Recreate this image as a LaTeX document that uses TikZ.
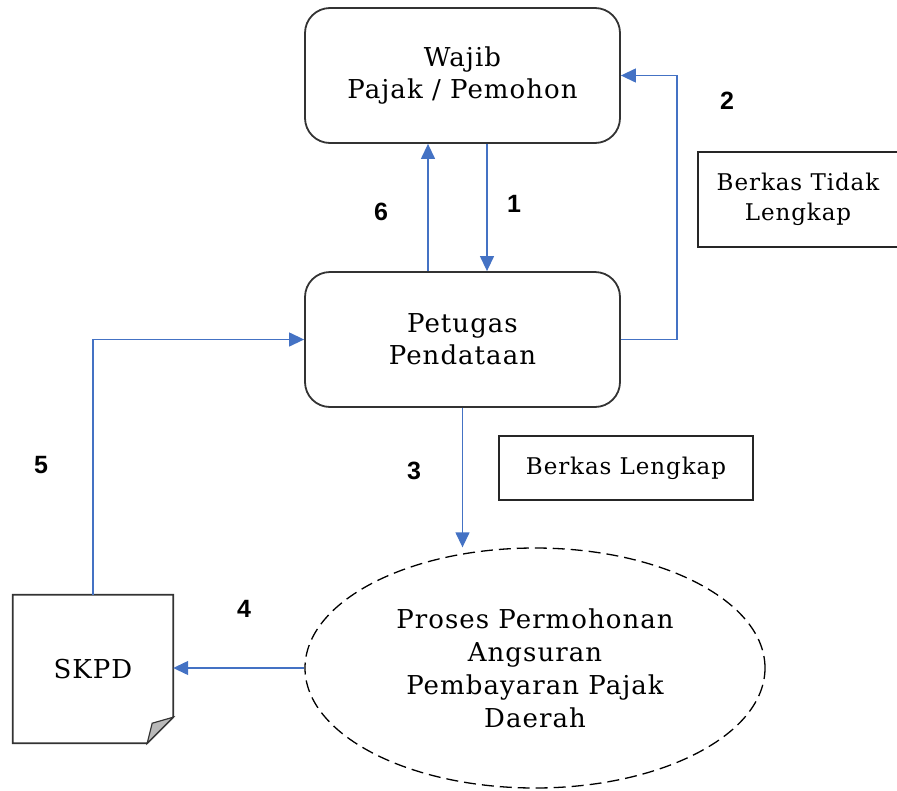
\documentclass[tikz,border=0pt]{standalone}
\usepackage{fontspec}
\setmainfont[LetterSpace=4]{DejaVu Serif}
\newfontfamily\numfont{Liberation Sans}
\usetikzlibrary{arrows.meta,shapes.geometric}
\definecolor{flowblue}{RGB}{68,114,196}
\tikzset{
  procbox/.style={draw=black!80,line width=1.8pt,rounded corners=25pt,minimum width=315pt,minimum height=135pt,align=center,font=\fontsize{26}{32}\selectfont},
  notebox/.style={draw=black!85,line width=2pt,align=center,font=\fontsize{23}{30}\selectfont},
  flow/.style={draw=flowblue,line width=1.3pt,-{Triangle[length=15pt,width=14pt]}},
  steplabel/.style={font=\numfont\bfseries\fontsize{25}{25}\selectfont}
}
\begin{document}
\begin{tikzpicture}[x=1pt,y=-1pt]
\useasboundingbox (0,0) rectangle (897,790);
\node[procbox] (wajib) at (462.5,75.5) {Wajib\\Pajak / Pemohon};
\node[procbox] (petugas) at (462.5,339.5) {Petugas\\Pendataan};
\node[ellipse,draw,line width=1.3pt,dash pattern=on 12pt off 6pt,minimum width=460pt,minimum height=240pt,align=center,font=\fontsize{26}{33}\selectfont] (proses) at (535,668) {Proses Permohonan\\Angsuran\\Pembayaran Pajak\\Daerah};
\node[minimum width=160pt,minimum height=148pt,font=\fontsize{26}{32}\selectfont] (skpd) at (93,669) {SKPD};
\draw[black!80,line width=1.8pt] (skpd.north west) -- (skpd.north east) -- ([yshift=26pt]skpd.south east) -- ([xshift=-26pt]skpd.south east) -- (skpd.south west) -- cycle;
\draw[black!80,line width=1.2pt,fill=gray!55] ([yshift=26pt]skpd.south east) -- ([xshift=-21pt,yshift=20pt]skpd.south east) -- ([xshift=-26pt]skpd.south east) -- cycle;
\node[notebox,minimum width=200pt,minimum height=95pt] (tidak) at (798,199.5) {Berkas Tidak\\Lengkap};
\node[notebox,minimum width=254pt,minimum height=64pt] (lengkap) at (626,468) {Berkas Lengkap};
\draw[flow] ([xshift=24.5pt]wajib.south) -- ([xshift=24.5pt]petugas.north);
\draw[flow] ([xshift=-34.5pt]petugas.north) -- ([xshift=-34.5pt]wajib.south);
\draw[flow] (petugas.east) -- ++(56,0) |- (wajib.east);
\draw[flow] (petugas.south) -- (petugas.south |- proses.north);
\draw[flow] (proses.west) -- (proses.west -| skpd.east);
\draw[flow] (skpd.north) |- (petugas.west);
\node[steplabel] (lblone) at (514,204) {1};
\node[steplabel] (lbltwo) at (727,101) {2};
\node[steplabel] (lblthree) at (414,471) {3};
\node[steplabel] (lblfour) at (244,609) {4};
\node[steplabel] (lblfive) at (41,465) {5};
\node[steplabel] (lblsix) at (381,212) {6};
\end{tikzpicture}
\end{document}
